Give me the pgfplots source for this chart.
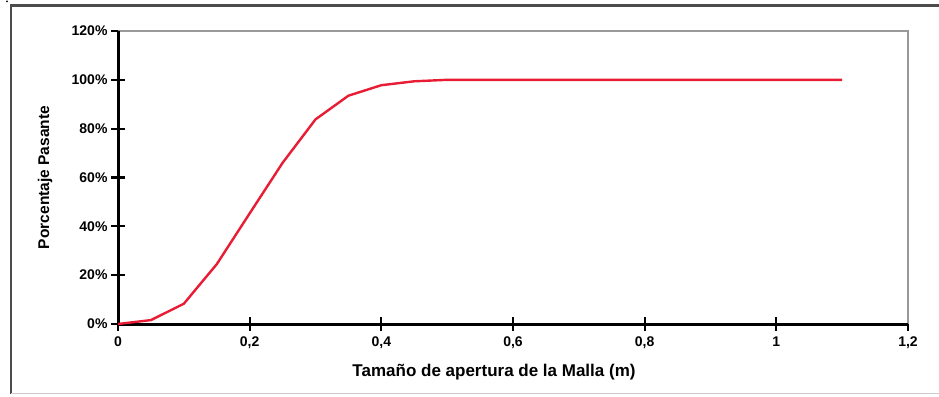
\documentclass[border=0pt]{standalone}
\usepackage{pgfplots}
\pgfplotsset{compat=1.18}
\usepackage{fontspec}
\setmainfont{Liberation Sans}
\definecolor{curve}{RGB}{232,28,52}
\pgfplotsset{every tick/.style={line width=2.2pt, black}, major tick length=14pt}
\begin{document}
\begin{tikzpicture}[x=1pt,y=1pt]
\useasboundingbox (0,0) rectangle (939,396);
\draw[line width=2.2pt, black!70] (11,2.5) -- (11,390.5) -- (939,390.5);
\draw[line width=1pt, black!20] (11,2.5) -- (939,2.5);
\fill[black] (7,394.5) circle (1);
\begin{axis}[
  at={(118pt,72pt)}, anchor=south west,
  scale only axis, width=790pt, height=293pt,
  xmin=0, xmax=1.2, ymin=0, ymax=120,
  axis x line*=bottom, axis y line*=left,
  axis line style={-, line width=3pt, black},
  xtick={0,0.2,0.4,0.6,0.8,1,1.2},
  ytick={0,20,40,60,80,100,120},
  tick align=center,
  /pgf/number format/assume math mode=true,
  /pgf/number format/use comma,
  x tick label style={font=\bfseries\fontsize{14}{15}\selectfont, yshift=-2pt},
  y tick label style={font=\bfseries\fontsize{14}{15}\selectfont, xshift=0pt},
  yticklabel={\pgfmathprintnumber{\tick}\%},
  xlabel={Tamaño de apertura de la Malla (m)},
  ylabel={Porcentaje Pasante},
  xlabel style={font=\bfseries\fontsize{17}{19}\selectfont, at={(axis description cs:0.476,-0.164)}, anchor=center},
  ylabel style={font=\bfseries\fontsize{15.5}{18}\selectfont, at={(axis description cs:-0.0924,0.5)}, anchor=center},
  clip=false,
]
\draw[line width=1.4pt, black!40] (rel axis cs:0,1) -- (rel axis cs:1,1) -- (rel axis cs:1,0);
\draw[line width=3pt, black] (rel axis cs:0,1) -- (rel axis cs:0,0) -- (rel axis cs:1,0);
\addplot[curve, line width=2.4pt] coordinates {
(0,0) (0.05,1.6) (0.1,8.3) (0.15,24.5) (0.2,45.3) (0.25,66) (0.3,83.8) (0.35,93.5) (0.4,97.8) (0.45,99.4) (0.5,100) (1.1,100)
};
\end{axis}
\end{tikzpicture}
\end{document}
